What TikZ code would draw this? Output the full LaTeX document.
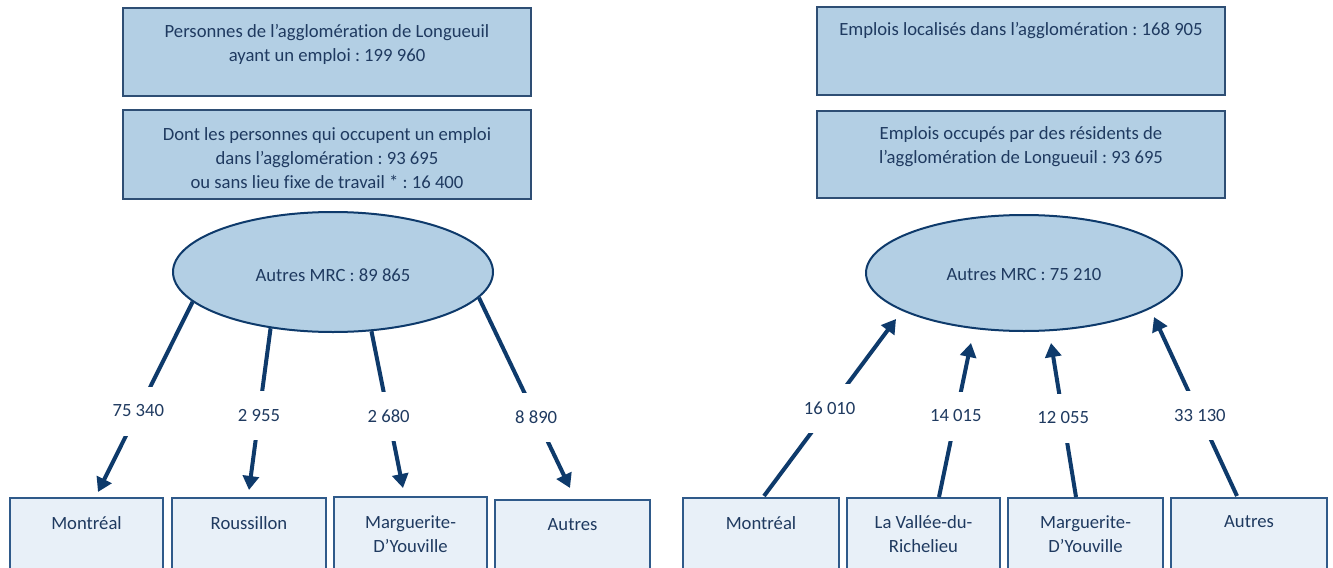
\documentclass[tikz,border=0pt]{standalone}
\usepackage{fontspec}
\setmainfont[Ligatures=NoCommon]{Carlito}
\usetikzlibrary{arrows.meta,shapes.geometric}
\frenchspacing
\definecolor{txtc}{HTML}{1F3A60}
\definecolor{linec}{HTML}{0E3A6B}
\definecolor{boxfill}{HTML}{B3CFE4}
\definecolor{boxdraw}{HTML}{2E4E74}
\definecolor{lowfill}{HTML}{E8F0F8}
\definecolor{lowdraw}{HTML}{2F5A8A}
\tikzset{
  topbox/.style={draw=boxdraw, line width=1.5pt, fill=boxfill, minimum width=306pt, inner sep=0pt},
  lowbox/.style={draw=lowdraw, line width=1.5pt, fill=lowfill, minimum height=60pt, inner sep=0pt},
  oval/.style={ellipse, draw=linec, line width=1.5pt, fill=boxfill, inner sep=0pt, text=txtc},
  txt/.style={text=txtc, align=center, inner sep=0pt, font=\fontsize{14}{18}\selectfont},
  flow/.style={draw=linec, line width=3pt, -{Triangle[length=10.5pt,width=12pt]}},
  num/.style={fill=white, text=txtc, minimum height=36.75pt, inner xsep=2pt, inner ysep=0pt, font=\fontsize{14}{18}\selectfont},
}
\begin{document}
\begin{tikzpicture}[x=0.75pt,y=-0.75pt]
\useasboundingbox (0,0) rectangle (1333,567);
\fill[white] (0,0) rectangle (1333,567);

% left top boxes
\node[topbox, minimum height=66pt] (L1) at (327,52) {};
\node[txt] (L1t) at (327,44) {Personnes de l’agglomération de Longueuil\\ayant un emploi : 199 960};
\node[topbox, minimum height=66.75pt] (L2) at (327,154.5) {};
\node[txt] (L2t) at (327,158) {Dont les personnes qui occupent un emploi\\dans l’agglomération : 93 695\\ou sans lieu fixe de travail * : 16 400};

% right top boxes
\node[topbox, minimum height=66pt] (R1) at (1021,51) {};
\node[txt] (R1t) at (1021,31) {Emplois localisés dans l’agglomération : 168 905};
\node[topbox, minimum height=65.25pt] (R2) at (1021,154.5) {};
\node[txt] (R2t) at (1021,147) {Emplois occupés par des résidents de\\l’agglomération de Longueuil : 93 695};

% ellipses
\node[oval, minimum width=240pt, minimum height=90pt] (LE) at (333,272) {};
\node[txt] (LEt) at (333,275) {Autres MRC : 89 865};
\node[oval, minimum width=237pt, minimum height=87pt] (RE) at (1024,273) {};
\node[txt] (REt) at (1024,275) {Autres MRC : 75 210};

% left bottom boxes
\node[lowbox, minimum width=114.75pt] (B1) at (86.5,538) {};
\node[txt] (B1t) at (86.5,523) {Montréal};
\node[lowbox, minimum width=115.5pt] (B2) at (249,538) {};
\node[txt] (B2t) at (249,523) {Roussillon};
\node[lowbox, minimum width=114.75pt] (B3) at (410.5,537) {};
\node[txt] (B3t) at (410.5,534.5) {Marguerite-\\D’Youville};
\node[lowbox, minimum width=116.25pt] (B4) at (572.5,540) {};
\node[txt] (B4t) at (572.5,525) {Autres};

% right bottom boxes
\node[lowbox, minimum width=117pt] (C1) at (761,538) {};
\node[txt] (C1t) at (761,523) {Montréal};
\node[lowbox, minimum width=114.75pt] (C2) at (923.5,538) {};
\node[txt] (C2t) at (923.5,534.5) {La Vallée-du-\\Richelieu};
\node[lowbox, minimum width=116.25pt] (C3) at (1085.5,538) {};
\node[txt] (C3t) at (1085.5,534.5) {Marguerite-\\D’Youville};
\node[lowbox, minimum width=117pt] (C4) at (1249,538) {};
\node[txt] (C4t) at (1249,522) {Autres};

% left connector ends
\coordinate (ta) at (98,492);
\coordinate (tb) at (249,490);
\coordinate (tc) at (403,488);
\coordinate (td) at (570,488);
\draw[flow] (LE.192) -- node[num, pos=0.574]{75 340} (ta);
\draw[flow] (LE.222.6) -- node[num, pos=0.54]{2 955} (tb);
\draw[flow] (LE.303.7) -- node[num, pos=0.545]{2 680} (tc);
\draw[flow] (LE.350.4) -- node[num, pos=0.628]{8 890} (td);

% right connector ends
\coordinate (sa) at (764,496);
\coordinate (sb) at (939,497);
\coordinate (sc) at (1076,497);
\coordinate (sd) at (1237,496);
\coordinate (ua) at (896,319);
\coordinate (ub) at (971,343);
\coordinate (uc) at (1051,343);
\coordinate (ud) at (1154,317);
\draw[flow] (sa) -- node[num, pos=0.497]{16 010} (ua);
\draw[flow] (sb) -- node[num, pos=0.526]{14 015} (ub);
\draw[flow] (sc) -- node[num, pos=0.513]{12 055} (uc);
\draw[flow] (sd) -- node[num, pos=0.447]{33 130} (ud);
\end{tikzpicture}
\end{document}
